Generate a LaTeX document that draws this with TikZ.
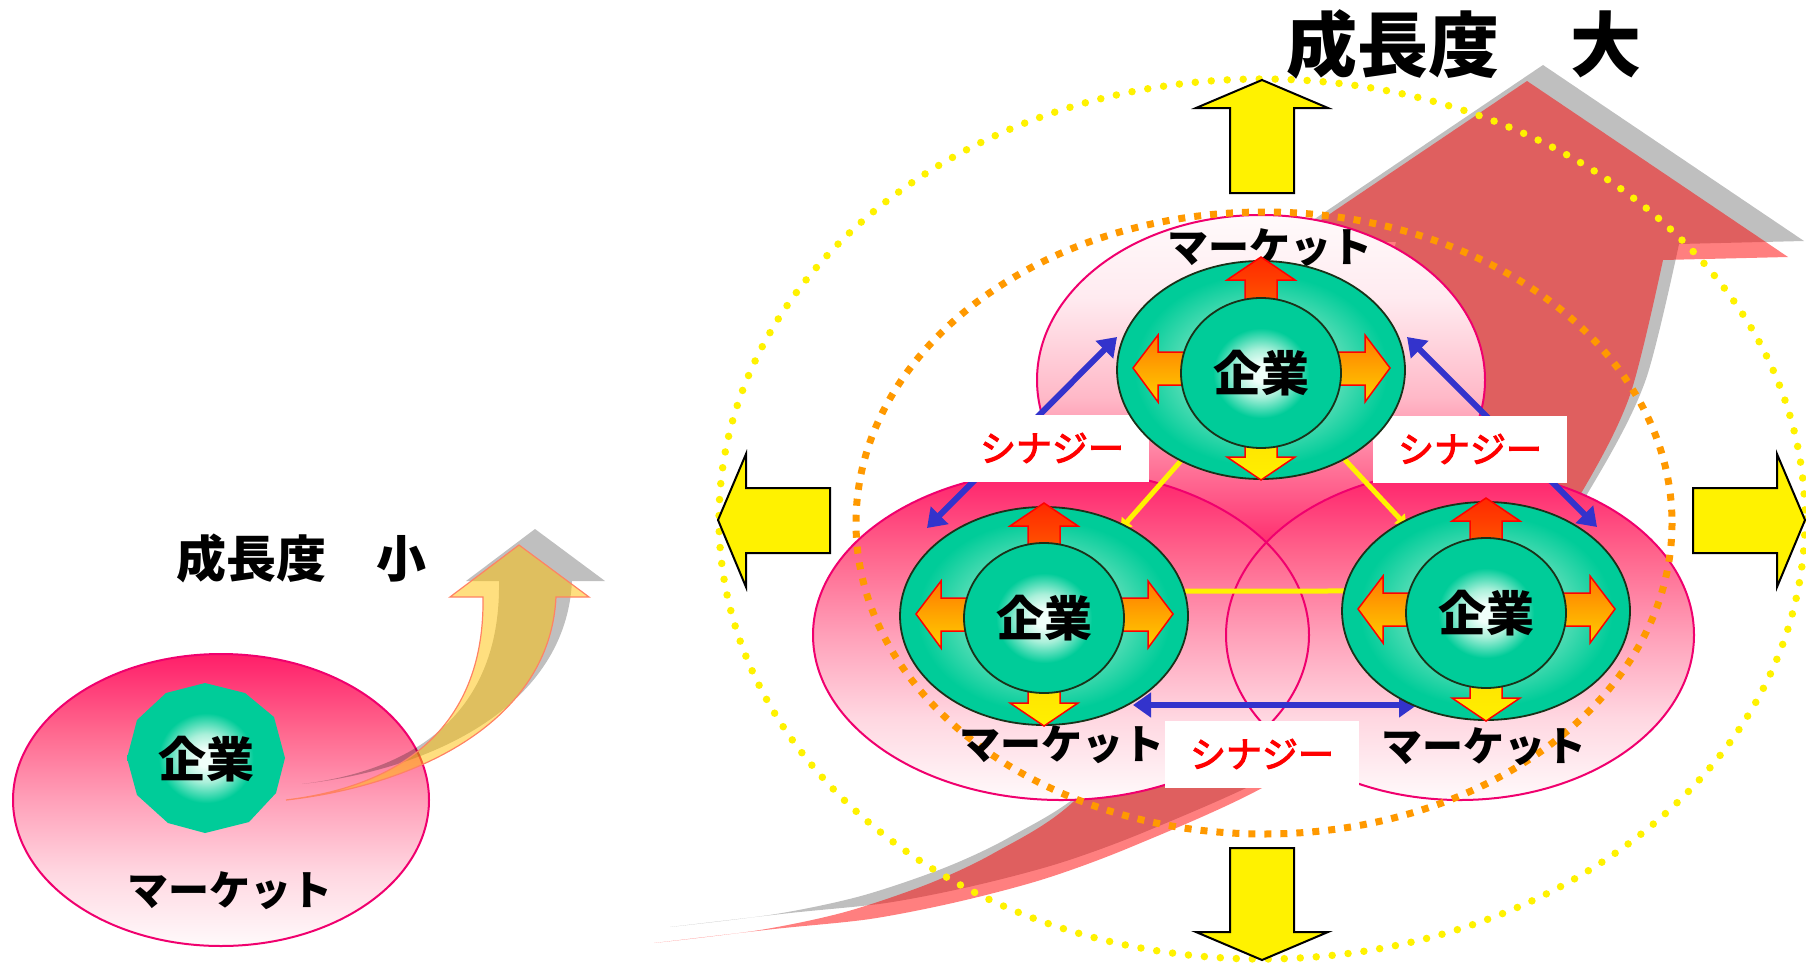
\documentclass[tikz,border=0pt]{standalone}
\usepackage{fontspec}
\newfontfamily\jp{Noto Sans CJK JP}
\newfontfamily\jpmid{Noto Sans CJK JP}[FakeBold=3]
\usetikzlibrary{shapes.geometric,arrows.meta}

% palette
\definecolor{mkEdge}{RGB}{240,0,110}
\definecolor{mkA}{RGB}{255,250,251}
\definecolor{mkB}{RGB}{255,215,225}
\definecolor{mkC}{RGB}{255,160,185}
\definecolor{mkD}{RGB}{255,100,140}
\definecolor{mkE}{RGB}{255,30,105}
\definecolor{tpB}{RGB}{255,235,240}
\definecolor{tpC}{RGB}{255,185,200}
\definecolor{tpD}{RGB}{255,120,155}
\definecolor{tpE}{RGB}{255,45,110}
\definecolor{gG}{RGB}{0,204,153}
\definecolor{gLight}{RGB}{80,220,180}
\definecolor{gPale}{RGB}{170,240,218}
\definecolor{gWhite}{RGB}{240,255,250}
\definecolor{gEdge}{RGB}{25,50,25}
\definecolor{flA}{RGB}{255,240,0}
\definecolor{flB}{RGB}{255,220,0}
\definecolor{flC}{RGB}{255,165,0}
\definecolor{flD}{RGB}{255,105,0}
\definecolor{flE}{RGB}{255,40,0}
\definecolor{synBlue}{RGB}{51,51,204}
\definecolor{dotOrange}{RGB}{255,153,0}
\definecolor{smallAmber}{RGB}{255,192,0}
\definecolor{amberEdge}{RGB}{255,130,100}

% shadings (a shaded path's bounding box covers the central 50bp of each)
\pgfdeclareverticalshading{mktLow}{100bp}{color(0bp)=(mkA); color(25bp)=(mkA); color(37.5bp)=(mkB); color(50bp)=(mkC); color(62.5bp)=(mkD); color(75bp)=(mkE); color(100bp)=(mkE)}
\pgfdeclareverticalshading{mktHigh}{100bp}{color(0bp)=(tpE); color(25bp)=(tpE); color(37.5bp)=(tpD); color(47.5bp)=(tpC); color(62.5bp)=(tpB); color(75bp)=(mkA); color(100bp)=(mkA)}
\pgfdeclareradialshading{ring}{\pgfpoint{0bp}{0bp}}{color(0bp)=(gPale); color(14bp)=(gLight); color(22bp)=(gG); color(50bp)=(gG)}
\pgfdeclareradialshading{core}{\pgfpoint{0bp}{0bp}}{color(0bp)=(gWhite); color(3bp)=(gWhite); color(8bp)=(gPale); color(15bp)=(gG); color(50bp)=(gG)}
\pgfdeclareverticalshading{flame}{100bp}{color(0bp)=(flA); color(25bp)=(flA); color(40bp)=(flB); color(50bp)=(flC); color(60bp)=(flD); color(75bp)=(flE); color(100bp)=(flE)}

\pgfdeclarelayer{base}
\pgfdeclarelayer{links}
\pgfsetlayers{base,links,main}

\begin{document}
\begin{tikzpicture}[x=1pt,y=-1pt,
  mkline/.style={draw=mkEdge,line width=2pt},
  blockarrow/.style={fill=yellow,draw=black,line width=2pt,line join=miter},
  outerG/.style={ellipse,inner sep=0pt,minimum width=288pt,minimum height=218pt,shading=ring,draw=gEdge,line width=1.8pt},
  innerG/.style={ellipse,inner sep=0pt,minimum width=160pt,minimum height=150pt,shading=core,draw=gEdge,line width=1.8pt,font=\jp\bfseries\fontsize{48pt}{50pt}\selectfont},
  flames/.style={shading=flame,draw=red,line width=1.5pt,line join=miter},
  synbox/.style={fill=white,inner sep=0pt,minimum width=194pt,minimum height=67pt,text=red,font=\jpmid\fontsize{36pt}{40pt}\selectfont},
  mktlabel/.style={inner sep=0pt,font=\jp\bfseries\fontsize{41pt}{45pt}\selectfont},
  synarrow/.style={draw=synBlue,line width=6pt,<->,>={Triangle[length=18pt,width=24pt]}},
  link/.style={draw=yellow,line width=5pt,-{Triangle[length=10pt,width=14pt]},shorten >=-6pt},
]
\useasboundingbox (0,0) rectangle (1806,966);

\begin{pgfonlayer}{base}
% ---- small market with a single company ----
\path[shading=mktLow] (221,800) ellipse [x radius=208, y radius=146];
\draw[mkline] (221,800) ellipse [x radius=208, y radius=146];

% small growth arrow: shadow, then translucent amber body
\fill[black,opacity=0.25,shift={(16,-16)}] (286,800) .. controls (420,785) and (550,720) .. (556,597) -- (589,597) -- (519,545) -- (450,597) -- (483,597) .. controls (485,720) and (410,785) .. (286,800) -- cycle;
\path[fill=smallAmber,fill opacity=0.5,draw=amberEdge,line width=1.2pt] (286,800) .. controls (420,785) and (550,720) .. (556,597) -- (589,597) -- (519,545) -- (450,597) -- (483,597) .. controls (485,720) and (410,785) .. (286,800) -- cycle;

% company blob
\path[shading=core] (205,683) -- (245,693) -- (274,717) -- (285,758) -- (276,793) -- (249,822) -- (205,833) -- (168,823) -- (137,795) -- (127,758) -- (137,720) -- (166,693) -- cycle;
\node[inner sep=0pt,font=\jp\bfseries\fontsize{48pt}{50pt}\selectfont] (firmS) at (206,759) {企業};
\node[mktlabel] (mktS) at (230,891) {マーケット};
\node[inner sep=0pt,font=\jp\bfseries\fontsize{50pt}{54pt}\selectfont] (growS) at (301,558) {成長度　小};

% ---- large growth arrow: shadow, then translucent red body ----
\fill[black,opacity=0.25,shift={(16,-16)}] (654,943) -- plot[smooth] coordinates {(654,943) (774,929) (870,919) (957,902) (1044,879) (1131,847) (1262,788) (1400,700) (1510,600) (1583,490) (1630,395) (1663,260)} -- (1788,257) -- (1527,81) -- (1266,257) -- (1380,258) -- plot[smooth] coordinates {(1380,258) (1340,400) (1270,540) (1180,680) (1073,802) (994,853) (928,884) (845,912) (760,930) (654,943)} -- cycle;
\fill[red,opacity=0.5] (654,943) -- plot[smooth] coordinates {(654,943) (774,929) (870,919) (957,902) (1044,879) (1131,847) (1262,788) (1400,700) (1510,600) (1583,490) (1630,395) (1663,260)} -- (1788,257) -- (1527,81) -- (1266,257) -- (1380,258) -- plot[smooth] coordinates {(1380,258) (1340,400) (1270,540) (1180,680) (1073,802) (994,853) (928,884) (845,912) (760,930) (654,943)} -- cycle;

% ---- three markets ----
\path[shading=mktHigh] (1261,380) ellipse [x radius=224, y radius=165];
\draw[mkline] (1261,380) ellipse [x radius=224, y radius=165];
\path[shading=mktLow] (1061,635) ellipse [x radius=248, y radius=165];
\path[shading=mktLow] (1460,635) ellipse [x radius=234, y radius=165];
\draw[mkline] (1061,635) ellipse [x radius=248, y radius=165];
\draw[mkline] (1460,635) ellipse [x radius=234, y radius=165];

% dotted boundaries
\draw[yellow,line width=7.5pt,line cap=round,dash pattern=on 0pt off 16pt] (1262,519) ellipse [x radius=543, y radius=440];
\draw[dotOrange,line width=7pt,dash pattern=on 7pt off 9pt] (1264,523) ellipse [x radius=408, y radius=311];

% expansion arrows
\draw[blockarrow] (1262,80) -- (1328,108) -- (1294,108) -- (1294,193) -- (1230,193) -- (1230,108) -- (1196,108) -- cycle;
\draw[blockarrow] (1262,960) -- (1328,932) -- (1294,932) -- (1294,848) -- (1230,848) -- (1230,932) -- (1196,932) -- cycle;
\draw[blockarrow] (718,520) -- (746,454) -- (746,488) -- (830,488) -- (830,553) -- (746,553) -- (746,587) -- cycle;
\draw[blockarrow] (1805,520) -- (1777,454) -- (1777,488) -- (1693,488) -- (1693,553) -- (1777,553) -- (1777,587) -- cycle;
\end{pgfonlayer}

% ---- market labels ----
\node[mktlabel] (mktT) at (1270,248) {マーケット};
\node[mktlabel] (mktL) at (1062,745) {マーケット};
\node[mktlabel] (mktR) at (1484,747) {マーケット};

% ---- companies ----
\node[outerG] (gT) at (1261,370) {};
\begin{scope}[shift={(1261,370)}]
\path[flames] (0,-113) -- (34,-90) -- (16,-90) -- (16,-40) -- (-16,-40) -- (-16,-90) -- (-34,-90) -- cycle
  (0,110) -- (34,87) -- (16,87) -- (16,40) -- (-16,40) -- (-16,87) -- (-34,87) -- cycle
  (-128,-2) -- (-103,-35) -- (-103,-18) -- (-40,-18) -- (-40,15) -- (-103,15) -- (-103,32) -- cycle
  (129,-2) -- (104,-35) -- (104,-18) -- (40,-18) -- (40,15) -- (104,15) -- (104,32) -- cycle;
\end{scope}
\node[innerG] (iT) at (1261,373) {企業};

\node[outerG] (gL) at (1044,616) {};
\begin{scope}[shift={(1044,616)}]
\path[flames] (0,-113) -- (34,-90) -- (16,-90) -- (16,-40) -- (-16,-40) -- (-16,-90) -- (-34,-90) -- cycle
  (0,110) -- (34,87) -- (16,87) -- (16,40) -- (-16,40) -- (-16,87) -- (-34,87) -- cycle
  (-128,-2) -- (-103,-35) -- (-103,-18) -- (-40,-18) -- (-40,15) -- (-103,15) -- (-103,32) -- cycle
  (129,-2) -- (104,-35) -- (104,-18) -- (40,-18) -- (40,15) -- (104,15) -- (104,32) -- cycle;
\end{scope}
\node[innerG] (iL) at (1044,618) {企業};

\node[outerG] (gR) at (1486,611) {};
\begin{scope}[shift={(1486,611)}]
\path[flames] (0,-113) -- (34,-90) -- (16,-90) -- (16,-40) -- (-16,-40) -- (-16,-90) -- (-34,-90) -- cycle
  (0,110) -- (34,87) -- (16,87) -- (16,40) -- (-16,40) -- (-16,87) -- (-34,87) -- cycle
  (-128,-2) -- (-103,-35) -- (-103,-18) -- (-40,-18) -- (-40,15) -- (-103,15) -- (-103,32) -- cycle
  (129,-2) -- (104,-35) -- (104,-18) -- (40,-18) -- (40,15) -- (104,15) -- (104,32) -- cycle;
\end{scope}
\node[innerG] (iR) at (1486,613) {企業};

% ---- synergy links, drawn beneath the companies ----
\begin{pgfonlayer}{links}
\coordinate (synTLa) at (1117,337);
\coordinate (synTLb) at (927,528);
\coordinate (synTRa) at (1407,337);
\coordinate (synTRb) at (1597,527);
\coordinate (synBa) at (1133,705);
\coordinate (synBb) at (1417,705);
\draw[synarrow] (synTLb) -- (synTLa);
\draw[synarrow] (synTRa) -- (synTRb);
\draw[synarrow] (synBa) -- (synBb);
\draw[link] (gT) -- (gL);
\draw[link] (gT) -- (gR);
\draw[link,-] (gL.10) -- (gR.172);
\node[synbox] (synL) at (1052,448) {シナジー};
\node[synbox] (synR) at (1470,449) {シナジー};
\node[synbox] (synB) at (1262,754) {シナジー};
\end{pgfonlayer}

% ---- heading ----
\node[inner sep=0pt,font=\jp\bfseries\fontsize{71pt}{75pt}\selectfont] (growL) at (1464,44) {成長度　大};
\end{tikzpicture}
\end{document}
